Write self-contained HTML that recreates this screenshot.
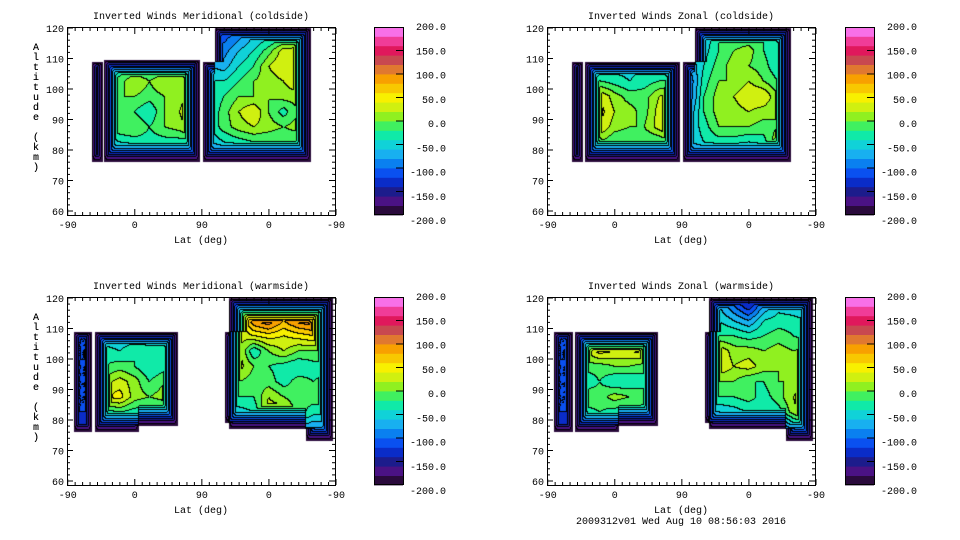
<!DOCTYPE html>
<html><head><meta charset="utf-8">
<style>
html,body{margin:0;padding:0;background:#fff;}
#root{position:relative;width:960px;height:540px;overflow:hidden;background:#fff;font-family:"Liberation Mono",monospace;}
canvas{position:absolute;}
svg{position:absolute;left:0;top:0;}
text{font-family:"Liberation Mono",monospace;font-size:10px;fill:#000;}
</style></head>
<body>
<div id="root">
<canvas id="c0" width="269" height="188" style="left:67px;top:27px"></canvas>
<canvas id="c1" width="269" height="188" style="left:547px;top:27px"></canvas>
<canvas id="c2" width="269" height="188" style="left:67px;top:297px"></canvas>
<canvas id="c3" width="269" height="188" style="left:547px;top:297px"></canvas>
<svg id="ov" width="960" height="540"></svg>
</div>
<script>
// ---- data ----
const latTickLabels=["-90","0","90","0","-90"];
const altTicks=[60,70,80,90,100,110,120];
const cbarLabels=[200,150,100,50,0,-50,-100,-150,-200];
const panelTitles=["Inverted Winds Meridional (coldside)","Inverted Winds Zonal (coldside)","Inverted Winds Meridional (warmside)","Inverted Winds Zonal (warmside)"];
const gridLatCenters=[10,30,50,70,90,110,130,150,170,190,210,230,250,270,290,310,330,350];
const gridAltCenters=[117.5,112.5,107.5,102.5,97.5,92.5,87.5,82.5,77.5];
const n=null;
const p1Values=[
[n,n,n,n,n,n,n,n,n,n,-110,-90,-60,-50,-40,-30,-30,n],
[n,n,n,n,n,n,n,n,n,n,-90,-60,-40,-10,30,30,30,n],
[n,-100,-60,-40,-30,-30,-30,-20,-10,-60,-70,-40,-20,20,40,40,40,n],
[n,-100,-30,-10,20,0,20,10,40,-40,-40,-20,0,10,20,40,40,n],
[n,-100,-30,0,0,-10,0,10,40,-40,-20,0,0,0,10,10,10,n],
[n,-100,-40,0,-20,-40,0,20,40,-40,-10,20,40,0,-30,0,0,n],
[n,-100,-40,0,0,-20,0,10,40,-40,-10,10,20,10,0,10,10,n],
[n,-110,-60,-40,-30,-30,-30,-30,-30,-60,-40,-30,-20,-20,-20,-20,-20,n],
[n,-140,-120,-120,-120,-120,-120,-120,-120,-120,-120,-120,-110,-120,-120,-120,-120,n]];
const p2Values=[
[n,n,n,n,n,n,n,n,n,n,-60,-20,-20,-20,-20,-30,-30,n],
[n,n,n,n,n,n,n,n,n,n,-50,-20,0,10,-20,-40,-40,n],
[n,-120,-60,-60,-50,-50,-40,-40,-30,-80,-40,-10,10,0,-10,-40,-40,n],
[n,-120,-30,-20,-30,-40,-30,-20,-20,-100,-30,0,0,20,0,-20,-20,n],
[n,-150,20,40,10,-10,-10,20,30,-100,-20,10,20,40,40,0,0,n],
[n,-150,50,50,20,10,-10,30,60,-80,-20,10,10,20,10,0,0,n],
[n,-150,50,40,10,0,0,30,60,-60,-30,0,0,0,-10,0,0,n],
[n,-150,20,0,-20,-20,-20,-20,0,-60,-40,-30,-30,-40,-30,20,20,n],
[n,-150,-120,-120,-120,-120,-120,-120,-120,-120,-120,-120,-120,-120,-120,-120,-120,n]];
const p3Values=[
[n,n,n,n,n,n,n,n,n,n,n,40,110,130,110,120,130,90],
[n,n,n,n,n,n,n,n,n,n,n,20,100,120,80,110,120,90],
[-120,-120,-60,-60,-60,-60,-60,-50,n,n,n,20,40,50,40,50,60,60],
[-120,-120,-30,-40,-20,-30,-30,-30,n,n,n,30,-40,0,20,0,0,0],
[-120,-120,-20,-10,-20,-40,-30,-20,n,n,n,30,0,-20,-30,-40,-30,-30],
[-120,-120,10,30,10,-20,0,40,n,n,n,0,-10,-10,-30,-10,-20,-10],
[-120,-120,40,50,10,0,10,50,n,n,n,-20,-20,20,0,-20,-10,-10],
[-120,-120,-30,-20,-30,-30,-30,-20,n,n,n,-50,-40,30,40,-10,-30,-30],
[-140,-140,-120,-120,-120,-120,-120,-120,n,n,n,-120,-120,-120,-120,-60,-80,-80]];
const p4Values=[
[n,n,n,n,n,n,n,n,n,n,n,-60,-100,-140,-80,-50,-60,-80],
[n,n,n,n,n,n,n,n,n,n,n,-40,-60,-80,-40,-30,-30,-40],
[-120,-120,-60,-40,-40,-40,-40,-40,n,n,n,-20,-20,-30,-20,-10,-20,-30],
[-120,-120,20,50,40,40,50,40,n,n,n,40,10,10,0,10,0,10],
[-120,-120,-10,-10,0,0,-10,10,n,n,n,40,20,30,10,0,0,10],
[-120,-120,-40,-20,-40,-40,-30,-10,n,n,n,0,0,-20,-20,0,0,20],
[-120,-120,0,-10,10,0,-10,0,n,n,n,-20,-20,-10,-30,-10,20,50],
[-120,-120,-30,-20,-30,-30,-30,-30,n,n,n,-60,-50,-40,-40,-30,10,50],
[-140,-140,-120,-120,-120,-120,-120,-120,n,n,n,-120,-120,-120,-120,-120,-60,-60]];
// data coverage extents [latStart, latEnd, altLow, altHigh] (lat index 0..360)
const p1Blocks=[[32,47,76,109],[49,178,76,109.5],[181,198,76,109],[198,327,76,120]];
const p2Blocks=[[33,47,76,109],[50,178,76,109],[182,198,76,109],[198,327,76,120]];
const p3Blocks=[[8,32,76,109],[37,95,76,109],[95,148,78,109],[211,217,79,109],[217,320,77,120],[320,356,73,120]];
const p4Blocks=[[8,34,76,109],[37,95,76,109],[95,148,78,109],[211,217,79,109],[217,320,77,120],[320,356,73,120]];

const COLORS=["#2a0a3c","#4a1284","#1c1c8c","#0a2cc8","#0a50f0","#0a80f0","#18b0f0","#10d2d8","#10eaa8","#40f060",
"#90f020","#d0f010","#f8f000","#f8c800","#f8a000","#e07830","#c84850","#e0185c","#f03c98","#f870e8"];
function hex(c){return [parseInt(c.slice(1,3),16),parseInt(c.slice(3,5),16),parseInt(c.slice(5,7),16)];}
const RGB=COLORS.map(hex);

function fillNulls(g){
  const R=g.length,C=g[0].length,out=g.map(r=>r.slice());
  for(let i=0;i<R;i++)for(let j=0;j<C;j++){
    if(g[i][j]!==null)continue;
    let best=null,bd=1e9;
    for(let a=0;a<R;a++)for(let b=0;b<C;b++){ if(g[a][b]===null)continue;
      const d=Math.abs(a-i)*1.5+Math.abs(b-j); if(d<bd){bd=d;best=g[a][b];}}
    out[i][j]=best;
  }
  return out;
}
function interp(g,t,a){
  let fx=(t-gridLatCenters[0])/(gridLatCenters[1]-gridLatCenters[0]);
  let fy=(gridAltCenters[0]-a)/(gridAltCenters[0]-gridAltCenters[1]);
  fx=Math.max(0,Math.min(gridLatCenters.length-1.001,fx));
  fy=Math.max(0,Math.min(gridAltCenters.length-1.001,fy));
  const i=Math.floor(fy),j=Math.floor(fx),u=fx-j,v=fy-i;
  return g[i][j]*(1-u)*(1-v)+g[i][j+1]*u*(1-v)+g[i+1][j]*(1-u)*v+g[i+1][j+1]*u*v;
}
const W=269,H=188,XW=268.3,YS=3.05;
function tOf(px){return (px+0.5-0.7)/XW*360;}
function aOf(py){return 120-(py+0.5-1)/YS;}
function render(id,values,blocks){
  const g=fillNulls(values);
  const cv=document.getElementById(id),ctx=cv.getContext('2d');
  const img=ctx.createImageData(W,H),d=img.data;
  const mask=new Uint8Array(W*H),dv=new Float32Array(W*H),dh=new Float32Array(W*H),band=new Int16Array(W*H);
  for(let y=0;y<H;y++)for(let x=0;x<W;x++){
    const t=tOf(x),a=aOf(y);
    let m=0;for(const b of blocks){if(t>=b[0]&&t<=b[1]&&a>=b[2]&&a<=b[3]){m=1;break;}}
    mask[y*W+x]=m;
  }
  for(let y=0;y<H;y++){let c=1e6;for(let x=0;x<W;x++){const k=y*W+x;c=mask[k]?c+1:0;dh[k]=c;}
    c=1e6;for(let x=W-1;x>=0;x--){const k=y*W+x;c=mask[k]?c+1:0;dh[k]=Math.min(dh[k],c);}}
  for(let x=0;x<W;x++){let c=1e6;for(let y=0;y<H;y++){const k=y*W+x;c=mask[k]?c+1:0;dv[k]=c;}
    c=1e6;for(let y=H-1;y>=0;y--){const k=y*W+x;c=mask[k]?c+1:0;dv[k]=Math.min(dv[k],c);}}
  for(let y=0;y<H;y++)for(let x=0;x<W;x++){const k=y*W+x;if(!mask[k]){band[k]=-1;continue;}
    let v=interp(g,tOf(x),aOf(y));
    const a=aOf(y);const kv=a<90?9:12;
    const cv1=-206+dv[k]*kv, ch=-206+dh[k]*13;
    // smooth-min for rounded corners
    const cap=Math.min(cv1,ch)-Math.max(0,20-Math.abs(cv1-ch))*0.35;
    v=Math.min(v,cap);
    band[k]=Math.max(0,Math.min(19,Math.floor((v+200)/20)));}
  for(let y=0;y<H;y++)for(let x=0;x<W;x++){const k=y*W+x,p=k*4;
    if(band[k]<0){d[p]=255;d[p+1]=255;d[p+2]=255;d[p+3]=0;continue;}
    let edge=false;
    if(x<W-1&&band[k+1]>=0&&band[k+1]!==band[k])edge=true;
    if(y<H-1&&band[k+W]>=0&&band[k+W]!==band[k])edge=true;
    const c=edge?[0,0,0]:RGB[band[k]];d[p]=c[0];d[p+1]=c[1];d[p+2]=c[2];d[p+3]=255;}
  ctx.putImageData(img,0,0);
}
render('c0',p1Values,p1Blocks);render('c1',p2Values,p2Blocks);
render('c2',p3Values,p3Blocks);render('c3',p4Values,p4Blocks);

// ---- axes ----
const NS="http://www.w3.org/2000/svg",svg=document.getElementById('ov');
function el(tag,attrs,txt){const e=document.createElementNS(NS,tag);for(const k in attrs)e.setAttribute(k,attrs[k]);if(txt!==undefined)e.textContent=txt;svg.appendChild(e);return e;}
const panels=[{l:67,t:27,cb:374},{l:547,t:27,cb:845},{l:67,t:297,cb:374},{l:547,t:297,cb:845}];
panels.forEach((P,pi)=>{
  const r=el('rect',{x:P.l+0.5,y:P.t+0.5,width:W-1,height:H,fill:'none',stroke:'#000','stroke-width':1});
  
  
  const ti=el('text',{x:P.l+134,y:P.t-8,'text-anchor':'middle'},panelTitles[pi]);
  
  
  const xt=el('text',{x:P.l+134,y:P.t+H+28,'text-anchor':'middle'},"Lat (deg)");
  
  
  const yl="Altitude (km)".split("");
  yl.forEach((ch,i)=>{if(ch===' ')return;const c=el('text',{x:36,y:P.t+23+i*10,'text-anchor':'middle'},ch);
    
    });
  for(let tv=0;tv<=360;tv+=10){const x=P.l+0.7+tv/360*XW;const major=tv%90===0;const L=major?6:3;
    el('line',{x1:x,x2:x,y1:P.t+H,y2:P.t+H-L,stroke:'#000'});el('line',{x1:x,x2:x,y1:P.t+1,y2:P.t+1+L,stroke:'#000'});}
  latTickLabels.forEach((s,i)=>{const x=P.l+0.7+i*90/360*XW;const tl=el('text',{x:x,y:P.t+H+13,'text-anchor':'middle'},s);
    
    });
  for(let a=60;a<=120;a+=2){const y=P.t+1+(120-a)*YS;const L=a%10===0?6:3;
    el('line',{x1:P.l,x2:P.l+L,y1:y,y2:y,stroke:'#000'});el('line',{x1:P.l+W-1,x2:P.l+W-1-L,y1:y,y2:y,stroke:'#000'});}
  altTicks.forEach(a=>{const y=P.t+1+(120-a)*YS;const tl=el('text',{x:P.l-3,y:y+4,'text-anchor':'end'},String(a));
    
    });
  const bh=H/COLORS.length;
  COLORS.forEach((c,i)=>{const b=el('rect',{x:P.cb,y:P.t+H-(i+1)*bh,width:29,height:bh+0.4,fill:c});
    
    });
  el('rect',{x:P.cb+0.5,y:P.t+0.5,width:29,height:H-1,fill:'none',stroke:'#000'});
  cbarLabels.forEach(v=>{const y=P.t+(200-v)/400*H;
    if(v!==200&&v!==-200)el('line',{x1:P.cb+29,x2:P.cb+22,y1:y,y2:y,stroke:'#000'});
    const ty=P.t-1+(200-v)/400*194+4;
    const tl=el('text',{x:P.cb+72,y:ty,'text-anchor':'end'},v.toFixed(1));
    
    });
});
const ft=el('text',{x:681,y:524,'text-anchor':'middle'},"2009312v01 Wed Aug 10 08:56:03 2016");


</script>
</body></html>
